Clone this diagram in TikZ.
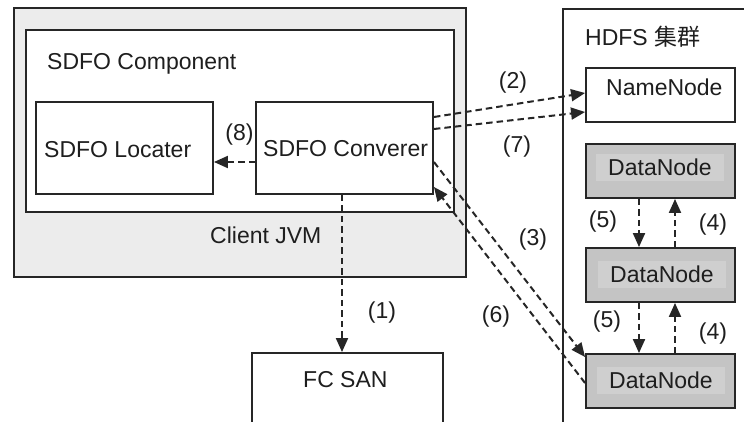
\documentclass[tikz,border=0pt]{standalone}
\usepackage{fontspec}
\setmainfont{Liberation Sans}
\newfontfamily\cjk{Noto Sans CJK SC}
\usetikzlibrary{arrows.meta}
\definecolor{linec}{HTML}{262626}
\definecolor{txtc}{HTML}{1E1E1E}
\definecolor{jvmfill}{HTML}{ECECEC}
\definecolor{dnout}{HTML}{C4C4C4}
\definecolor{dnin}{HTML}{CFCFCF}
\begin{document}
\begin{tikzpicture}[x=1pt,y=-1pt,
  box/.style={draw=linec,line width=1.9pt,inner sep=0pt,fill=white},
  txt/.style={text=txtc,font=\fontsize{23}{27}\selectfont,inner sep=0pt},
  dnbox/.style={box,fill=dnout,minimum width=149pt,minimum height=54pt},
  dntxt/.style={txt,fill=dnin,minimum width=128pt,minimum height=27pt},
  darr/.style={draw=linec,line width=2pt,dash pattern=on 6.5pt off 4pt,
    -{Triangle[length=14pt,width=12pt]}}]
\useasboundingbox (0,0) rectangle (744,421);

% Client JVM side
\node[box,fill=jvmfill,minimum width=452pt,minimum height=269pt] (jvm) at (240,142.5) {};
\node[box,minimum width=428pt,minimum height=182pt] (comp) at (240,121) {};
\node[box,minimum width=177pt,minimum height=92pt] (loc) at (124.5,148) {};
\node[box,minimum width=177pt,minimum height=92pt] (conv) at (344.5,148) {};
\node[txt,anchor=base west] (tcomp) at (47,69) {SDFO Component};
\node[txt,anchor=base west] (tloc) at (44,157) {SDFO Locater};
\node[txt,anchor=base west] (tconv) at (263,156) {SDFO Converer};
\node[txt,anchor=base west] (tjvm) at (210,243) {Client JVM};

% FC SAN
\node[box,minimum width=191pt,minimum height=88pt] (fcsan) at (347.5,397) {};
\node[txt,anchor=base west] (tfc) at (303,387) {FC SAN};

% HDFS cluster
\node[box,minimum width=197pt,minimum height=431pt] (hdfs) at (661.5,224.5) {};
\node[txt,anchor=base west] (thdfs) at (585,45) {HDFS {\cjk 集群}};
\node[box,minimum width=149pt,minimum height=54pt] (nn) at (660.5,95) {};
\node[txt,anchor=base west] (tnn) at (606,95) {NameNode};
\node[dnbox] (dn1) at (660.5,171) {};
\node[dnbox] (dn2) at (660.5,275) {};
\node[dnbox] (dn3) at (660.5,381) {};
\node[dntxt] (tdn1) at (660,167) {DataNode};
\node[dntxt] (tdn2) at (662,274.5) {DataNode};
\node[dntxt] (tdn3) at (661,380) {DataNode};

% connectors
\draw[darr] (conv.west |- 0,162) -- (loc.east |- 0,162);
\draw[darr] (conv.south -| 342,0) -- (fcsan.north -| 342,0);
\draw[darr] (conv.east |- 0,117) -- (nn.west |- 0,93);
\draw[darr] (conv.east |- 0,129) -- (nn.west |- 0,112);
\draw[darr] (conv.east |- 0,162) -- (dn3.west |- 0,357);
\draw[darr] (dn3.west |- 0,383) -- (conv.east |- 0,187);
\draw[darr] (dn1.south -| 639,0) -- (dn2.north -| 639,0);
\draw[darr] (dn2.north -| 675,0) -- (dn1.south -| 675,0);
\draw[darr] (dn2.south -| 639,0) -- (dn3.north -| 639,0);
\draw[darr] (dn3.north -| 675,0) -- (dn2.south -| 675,0);

% labels
\node[txt] (l8) at (239.5,135) {(8)};
\node[txt] (l1) at (382,313) {(1)};
\node[txt] (l2) at (513,83) {(2)};
\node[txt] (l7) at (517,147) {(7)};
\node[txt] (l3) at (533,240) {(3)};
\node[txt] (l6) at (496,317) {(6)};
\node[txt] (l5a) at (603,222) {(5)};
\node[txt] (l4a) at (713,225) {(4)};
\node[txt] (l5b) at (607,322) {(5)};
\node[txt] (l4b) at (713,334) {(4)};
\end{tikzpicture}
\end{document}
